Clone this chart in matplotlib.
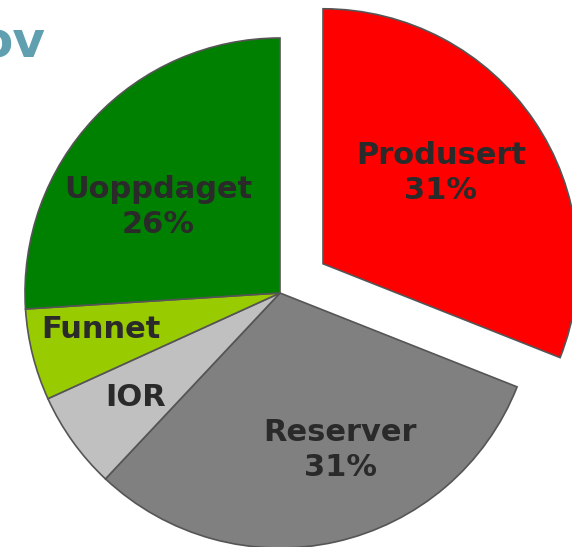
import matplotlib
matplotlib.use("Agg")
import matplotlib.pyplot as plt

# shares of total resources (percent), clockwise from 12 o'clock
categories = ["Produsert", "Reserver", "IOR", "Funnet", "Uoppdaget"]
shares = [31, 31, 6.2, 5.8, 26]
colors = ["#ff0000", "#808080", "#c0c0c0", "#99cc00", "#008000"]
explode_px = [52, 0, 0, 0, 0]   # pie() applies explode in data units, not radius units

W, H = 572, 547
CX, CY, R = 280, H - 293, 255
TXT = "#2a2a2a"

fig = plt.figure(figsize=(W / 100, H / 100), dpi=100)
ax = fig.add_axes([0, 0, 1, 1])
ax.pie(shares, colors=colors, startangle=90, counterclock=False,
       center=(CX, CY), radius=R, explode=explode_px,
       wedgeprops=dict(edgecolor="#555555", linewidth=1.2))
ax.set_xlim(0, W)
ax.set_ylim(0, H)
ax.set_aspect("equal")
ax.axis("off")

labels = [
    ("Produsert\n31%", 441, 173),
    ("Reserver\n31%", 340, 450),
    ("IOR", 136, 397),
    ("Funnet", 101, 330),
    ("Uoppdaget\n26%", 158, 207),
]
for txt, x, y in labels:
    ax.text(x, H - y, txt, ha="center", va="center", fontsize=22,
            fontweight="bold", color=TXT, linespacing=1.3)

# cropped slide title fragment
ax.text(46, H - 58, "ov", ha="right", va="baseline", fontsize=36,
        fontweight="bold", color="#5f9fb0")

fig.savefig("out.png", dpi=100)
